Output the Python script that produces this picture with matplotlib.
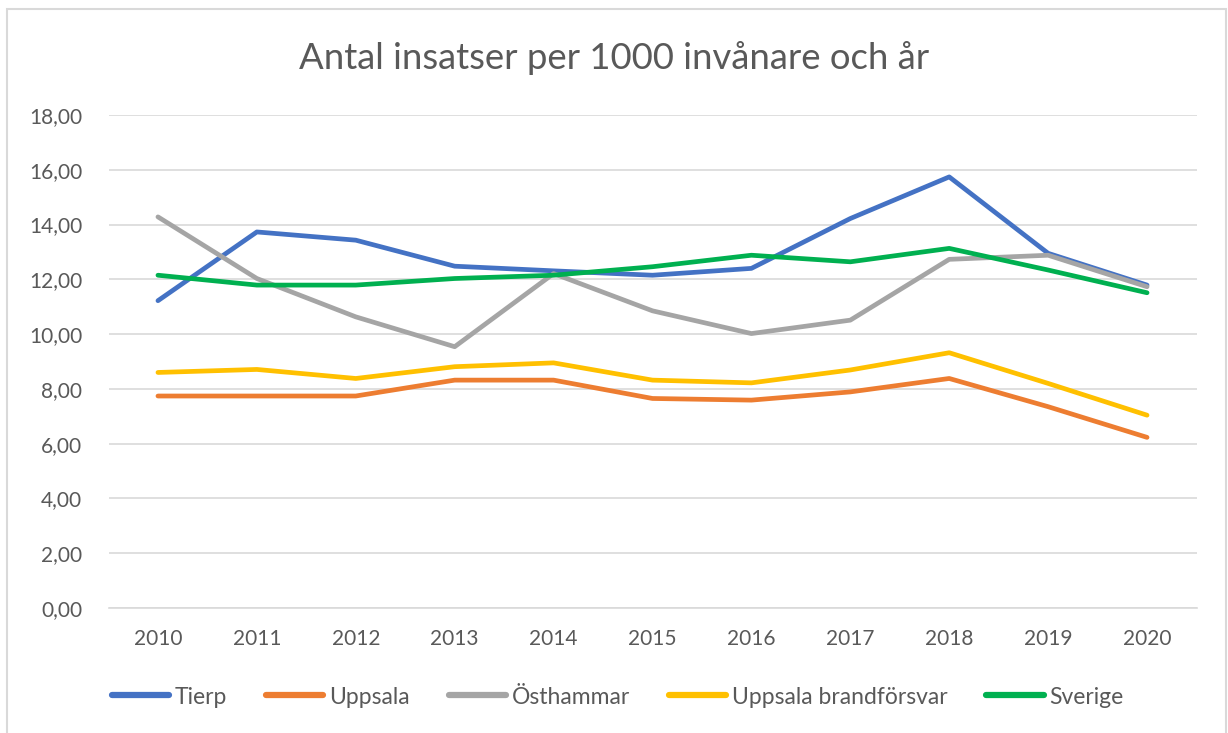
import matplotlib.pyplot as plt
from matplotlib.patches import Rectangle
from matplotlib.ticker import FuncFormatter

years = [2010, 2011, 2012, 2013, 2014, 2015, 2016, 2017, 2018, 2019, 2020]

tierp = [11.22, 13.73, 13.43, 12.48, 12.31, 12.15, 12.40, 14.22, 15.74, 12.95, 11.79]
uppsala = [7.74, 7.74, 7.74, 8.32, 8.32, 7.65, 7.59, 7.89, 8.38, 7.35, 6.23]
osthammar = [14.28, 12.03, 10.63, 9.54, 12.21, 10.85, 10.02, 10.51, 12.73, 12.88, 11.73]
uppsala_bf = [8.60, 8.71, 8.38, 8.81, 8.95, 8.32, 8.22, 8.69, 9.32, 8.20, 7.04]
sverige = [12.15, 11.79, 11.79, 12.03, 12.15, 12.46, 12.88, 12.64, 13.13, 12.34, 11.51]

names = ['Tierp', 'Uppsala', 'Östhammar', 'Uppsala brandförsvar', 'Sverige']
colors = ['#4472C4', '#ED7D31', '#A5A5A5', '#FFC000', '#00B050']

plt.rcParams['font.family'] = ['Lato', 'DejaVu Sans']

fig = plt.figure(figsize=(12.28, 7.33), dpi=100)
ax = fig.add_axes([108.5 / 1228, 1 - 608 / 733, 1088 / 1228, 493 / 733])

# chart border
fig.patches.append(Rectangle((7 / 1228, -0.01), 1219 / 1228, 1 - 9 / 733 + 0.01,
                             transform=fig.transFigure, fill=False,
                             edgecolor='#D9D9D9', linewidth=1.5))

for series, name, c in zip([tierp, uppsala, osthammar, uppsala_bf, sverige], names, colors):
    ax.plot(years, series, color=c, linewidth=3.4, label=name, solid_capstyle='round')

ax.set_xlim(2009.5, 2020.5)
ax.set_ylim(0, 18)
ax.set_yticks(range(0, 19, 2))
ax.set_xticks(years)
ax.yaxis.set_major_formatter(FuncFormatter(lambda v, p: f'{v:.2f}'.replace('.', ',')))
ax.grid(axis='y', color='#D9D9D9', linewidth=1.2)
ax.set_axisbelow(True)
for s in ['top', 'right', 'left']:
    ax.spines[s].set_visible(False)
ax.spines['bottom'].set_color('#D9D9D9')
ax.spines['bottom'].set_linewidth(1.2)
ax.tick_params(length=0, labelsize=15, colors='#595959')
ax.tick_params(axis='y', pad=19)
ax.tick_params(axis='x', pad=15)

fig.text(0.5, 1 - 58 / 733, 'Antal insatser per 1000 invånare och år',
         ha='center', va='center', fontsize=26.3, color='#595959')

leg = fig.legend(loc='center', bbox_to_anchor=(0.503, 1 - 697 / 733), ncol=5,
                 frameon=False, fontsize=16.5, handlelength=2.5, columnspacing=1.7,
                 handletextpad=0.25, labelcolor='#595959')
for l in leg.get_lines():
    l.set_linewidth(4.5)

fig.savefig('out.png', dpi=100)
